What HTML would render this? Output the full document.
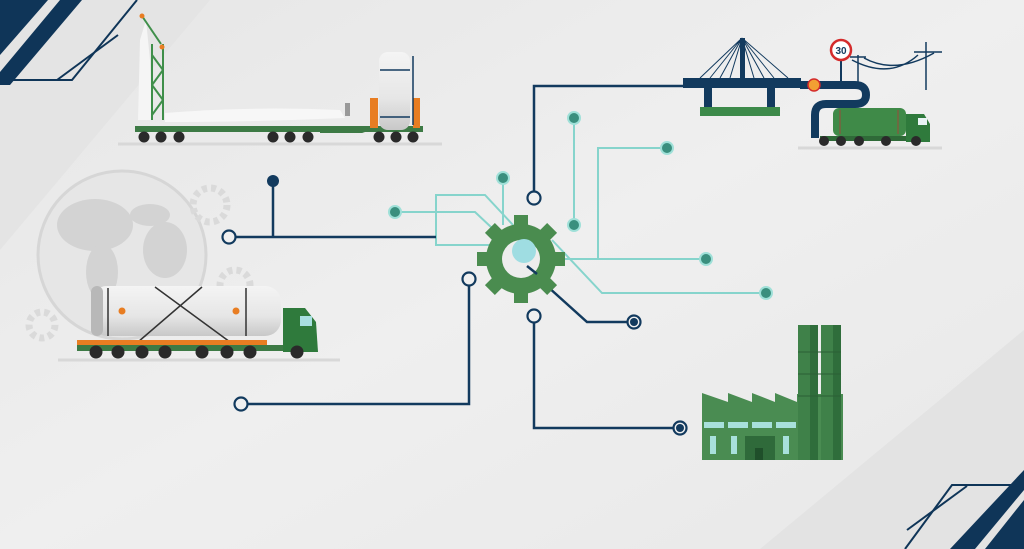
<!DOCTYPE html>
<html><head><meta charset="utf-8"><style>
html,body{margin:0;padding:0;background:#ececec;width:1024px;height:549px;overflow:hidden}
svg{display:block}
</style></head><body>
<svg width="1024" height="549" viewBox="0 0 1024 549" xmlns="http://www.w3.org/2000/svg">
<defs>
<linearGradient id="bg" x1="0" y1="0" x2="1" y2="1"><stop offset="0" stop-color="#e6e6e6"/><stop offset="0.5" stop-color="#efefef"/><stop offset="1" stop-color="#e8e8e8"/></linearGradient>
<linearGradient id="tank" x1="0" y1="0" x2="0" y2="1"><stop offset="0" stop-color="#f4f4f4"/><stop offset="0.6" stop-color="#e6e6e6"/><stop offset="1" stop-color="#c8c8c8"/></linearGradient>
</defs>
<rect width="1024" height="549" fill="url(#bg)"/>
<polygon points="0,0 210,0 0,250" fill="#e4e4e4"/>
<polygon points="1024,330 1024,549 760,549" fill="#e3e3e3"/>
<!-- top-left stripes -->
<polygon points="0,0 48,0 0,55" fill="#0f3558"/>
<polygon points="60,0 82,0 10,85 0,85 0,72" fill="#0f3558"/>
<polyline points="137,0 72,80 7,80" fill="none" stroke="#0f3558" stroke-width="2"/>
<line x1="118" y1="35" x2="57" y2="80" stroke="#0f3558" stroke-width="2"/>
<!-- bottom-right stripes -->
<polygon points="1024,500 1024,549 985,549" fill="#0f3558"/>
<polygon points="1024,470 1024,490 975,549 950,549" fill="#0f3558"/>
<polyline points="1020,485 952,485 905,549" fill="none" stroke="#0f3558" stroke-width="2"/>
<line x1="967" y1="486" x2="907" y2="530" stroke="#0f3558" stroke-width="2"/>

<!-- globe & bg gears -->
<circle cx="122" cy="255" r="84" fill="#e6e6e6" stroke="#d6d6d6" stroke-width="3"/>
<g fill="#d3d3d3">
<ellipse cx="95" cy="225" rx="38" ry="26"/><ellipse cx="102" cy="272" rx="16" ry="28"/>
<ellipse cx="165" cy="250" rx="22" ry="28"/><ellipse cx="150" cy="215" rx="20" ry="11"/>
</g>
<g fill="none" stroke="#dadada" stroke-width="7" stroke-dasharray="5 4">
<circle cx="210" cy="205" r="17"/><circle cx="235" cy="285" r="15"/><circle cx="42" cy="325" r="13"/>
</g>

<!-- circuit: teal -->
<g fill="none" stroke="#86d4cc" stroke-width="2">
<polyline points="401,212 475,212 492,228"/>
<polyline points="490,245 436,245 436,195 485,195 513,225"/>
<line x1="503" y1="184" x2="503" y2="225"/>
<line x1="574" y1="124" x2="574" y2="219"/>
<polyline points="556,259 700,259"/>
<polyline points="598,259 598,148 661,148"/>
<polyline points="552,240 602,293 760,293"/>
</g>
<g fill="#3a8f7e" stroke="#9fe0d8" stroke-width="2">
<circle cx="395" cy="212" r="6"/><circle cx="503" cy="178" r="6"/><circle cx="574" cy="118" r="6"/>
<circle cx="574" cy="225" r="6"/><circle cx="667" cy="148" r="6"/><circle cx="706" cy="259" r="6"/><circle cx="766" cy="293" r="6"/>
</g>
<!-- circuit: navy -->
<g fill="none" stroke="#123a5e" stroke-width="2.5">
<line x1="273" y1="181" x2="273" y2="237"/>
<line x1="236" y1="237" x2="436" y2="237"/>
<polyline points="469,286 469,404 248,404"/>
<polyline points="534,191 534,86 690,86"/>
<polyline points="527,268 587,322 628,322"/>
<polyline points="534,323 534,428 674,428"/>
</g>
<circle cx="273" cy="181" r="6" fill="#123a5e"/>
<g fill="#f0f0f0" stroke="#123a5e" stroke-width="2.2">
<circle cx="229" cy="237" r="6.5"/><circle cx="469" cy="279" r="6.5"/><circle cx="241" cy="404" r="6.5"/>
<circle cx="534" cy="198" r="6.5"/><circle cx="534" cy="316" r="6.5"/>
<circle cx="634" cy="322" r="6.5"/><circle cx="680" cy="428" r="6.5"/>
</g>
<circle cx="634" cy="322" r="4" fill="#123a5e"/><circle cx="680" cy="428" r="4" fill="#123a5e"/>

<!-- gear -->
<g transform="translate(521,259)" fill="#4a8c4f">
<circle r="35"/>
<g id="t"><rect x="-7" y="-44" width="14" height="14"/></g>
<use href="#t" transform="rotate(45)"/><use href="#t" transform="rotate(90)"/><use href="#t" transform="rotate(135)"/>
<use href="#t" transform="rotate(180)"/><use href="#t" transform="rotate(225)"/><use href="#t" transform="rotate(270)"/><use href="#t" transform="rotate(315)"/>
<circle r="19" fill="#ededed"/>
<circle cx="3" cy="-8" r="12" fill="#9fdde2"/>
</g>
<line x1="527" y1="266" x2="537" y2="274" stroke="#123a5e" stroke-width="2.5"/>

<!-- top-left truck with blade -->
<line x1="118" y1="144" x2="442" y2="144" stroke="#d8d8d8" stroke-width="3"/>
<polygon points="138,120 140,40 146,20 150,60 152,120" fill="#f5f5f5"/>
<path d="M165,113 Q250,106 340,110 L345,118 Q250,122 165,122 Z" fill="#f7f7f7"/>
<rect x="345" y="103" width="5" height="13" fill="#999"/>
<g stroke="#3f8f4a" stroke-width="2" fill="none">
<line x1="142" y1="16" x2="161" y2="44"/><line x1="152" y1="44" x2="152" y2="120"/><line x1="163" y1="44" x2="163" y2="120"/>
<line x1="152" y1="55" x2="163" y2="70"/><line x1="163" y1="70" x2="152" y2="85"/><line x1="152" y1="85" x2="163" y2="100"/><line x1="163" y1="100" x2="152" y2="115"/>
</g>
<circle cx="142" cy="16" r="2.5" fill="#e87d22"/><circle cx="162" cy="47" r="2.5" fill="#e87d22"/>
<rect x="135" y="126" width="288" height="6" fill="#3d7a45"/>
<polygon points="320,126 345,126 365,133 320,133" fill="#3d7a45"/>
<rect x="370" y="98" width="8" height="30" fill="#e87d22"/><rect x="413" y="98" width="7" height="30" fill="#e87d22"/>
<rect x="379" y="52" width="31" height="78" rx="9" fill="url(#tank)"/>
<line x1="380" y1="70" x2="410" y2="70" stroke="#123a5e" stroke-width="1.5"/>
<line x1="380" y1="117" x2="410" y2="117" stroke="#123a5e" stroke-width="1.5"/>
<line x1="413" y1="56" x2="413" y2="125" stroke="#123a5e" stroke-width="1.5"/>
<g fill="#2a2a2a">
<circle cx="144" cy="137" r="5.5"/><circle cx="161" cy="137" r="5.5"/><circle cx="179" cy="137" r="5.5"/>
<circle cx="273" cy="137" r="5.5"/><circle cx="290" cy="137" r="5.5"/><circle cx="308" cy="137" r="5.5"/>
<circle cx="379" cy="137" r="5.5"/><circle cx="396" cy="137" r="5.5"/><circle cx="413" cy="137" r="5.5"/>
</g>

<!-- lower truck -->
<line x1="58" y1="360" x2="340" y2="360" stroke="#d8d8d8" stroke-width="3"/>
<rect x="91" y="286" width="190" height="50" rx="16" fill="url(#tank)"/>
<rect x="91" y="286" width="12" height="50" rx="6" fill="#b8b8b8"/>
<line x1="108" y1="288" x2="108" y2="336" stroke="#333" stroke-width="1.5"/>
<line x1="246" y1="288" x2="246" y2="336" stroke="#333" stroke-width="1.5"/>
<line x1="155" y1="287" x2="230" y2="342" stroke="#333" stroke-width="1.5"/>
<line x1="202" y1="287" x2="138" y2="342" stroke="#333" stroke-width="1.5"/>
<circle cx="122" cy="311" r="3.5" fill="#e87d22"/><circle cx="236" cy="311" r="3.5" fill="#e87d22"/>
<rect x="77" y="340" width="190" height="5" fill="#e87d22"/>
<rect x="77" y="345" width="240" height="6" fill="#3d7a45"/>
<path d="M283,308 L305,308 L316,322 L318,352 L283,352 Z" fill="#2f7a3c"/>
<rect x="300" y="316" width="12" height="10" fill="#a8dfe0"/>
<g fill="#2a2a2a">
<circle cx="96" cy="352" r="6.5"/><circle cx="118" cy="352" r="6.5"/><circle cx="142" cy="352" r="6.5"/><circle cx="165" cy="352" r="6.5"/>
<circle cx="202" cy="352" r="6.5"/><circle cx="227" cy="352" r="6.5"/><circle cx="250" cy="352" r="6.5"/><circle cx="297" cy="352" r="6.5"/>
</g>

<!-- bridge -->
<g stroke="#123a5e" stroke-width="1" fill="none">
<path d="M742,38 L700,78 M742,38 L710,78 M742,38 L720,78 M742,38 L730,78 M742,38 L754,78 M742,38 L764,78 M742,38 L774,78 M742,38 L788,78"/>
</g>
<rect x="740" y="38" width="5" height="44" fill="#123a5e"/>
<rect x="683" y="78" width="118" height="10" fill="#123a5e"/>
<rect x="704" y="88" width="8" height="20" fill="#123a5e"/><rect x="767" y="88" width="8" height="20" fill="#123a5e"/>
<rect x="700" y="107" width="80" height="9" fill="#3d8a4a"/>
<path d="M800,85 L855,85 Q866,85 866,95 Q866,104 855,104 L826,104 Q815,104 815,115 L815,138" fill="none" stroke="#123a5e" stroke-width="8"/>
<circle cx="814" cy="85" r="6" fill="#f2a033" stroke="#d42b2b" stroke-width="1.5"/>
<line x1="841" y1="58" x2="841" y2="82" stroke="#123a5e" stroke-width="2"/>
<circle cx="841" cy="50" r="10" fill="#fff" stroke="#d42b2b" stroke-width="2.5"/>
<text x="841" y="54" font-family="Liberation Sans, sans-serif" font-size="10" font-weight="bold" text-anchor="middle" fill="#123a5e">30</text>
<g stroke="#123a5e" stroke-width="1.5" fill="none">
<line x1="858" y1="55" x2="858" y2="85"/><line x1="926" y1="42" x2="926" y2="90"/>
<line x1="850" y1="57" x2="866" y2="57"/><line x1="914" y1="52" x2="942" y2="52"/>
<path d="M852,60 Q890,80 918,55 M864,58 Q895,75 934,53"/>
</g>
<line x1="798" y1="148" x2="942" y2="148" stroke="#d8d8d8" stroke-width="3"/>
<rect x="833" y="108" width="73" height="28" rx="6" fill="#3f8a48"/>
<line x1="840" y1="110" x2="840" y2="134" stroke="#9b4a3a" stroke-width="1"/>
<line x1="898" y1="110" x2="898" y2="134" stroke="#9b4a3a" stroke-width="1"/>
<path d="M906,114 L924,114 L930,124 L930,142 L906,142 Z" fill="#2f7a3c"/>
<rect x="918" y="118" width="9" height="7" fill="#e8f4f4"/>
<rect x="820" y="136" width="86" height="5" fill="#2f6a38"/>
<g fill="#2a2a2a"><circle cx="824" cy="141" r="5"/><circle cx="841" cy="141" r="5"/><circle cx="859" cy="141" r="5"/><circle cx="886" cy="141" r="5"/><circle cx="916" cy="141" r="5"/></g>

<!-- factory -->
<polygon points="702,393 702,460 843,460 843,394 797,394 797,402 775,393 775,402 752,393 752,402 728,393 728,402" fill="#4a8c52"/>
<rect x="798" y="325" width="20" height="135" fill="#3f8149"/>
<rect x="821" y="325" width="20" height="135" fill="#3f8149"/>
<rect x="810" y="325" width="8" height="135" fill="#2f6d3b"/><rect x="833" y="325" width="8" height="135" fill="#2f6d3b"/>
<g stroke="#2b5e35" stroke-width="1"><line x1="798" y1="352" x2="841" y2="352"/><line x1="798" y1="374" x2="841" y2="374"/><line x1="798" y1="396" x2="841" y2="396"/></g>
<g fill="#a8e0dc">
<rect x="704" y="422" width="20" height="6"/><rect x="728" y="422" width="20" height="6"/><rect x="752" y="422" width="20" height="6"/><rect x="776" y="422" width="20" height="6"/>
<rect x="710" y="436" width="6" height="18"/><rect x="731" y="436" width="6" height="18"/><rect x="783" y="436" width="6" height="18"/>
</g>
<rect x="745" y="436" width="30" height="24" fill="#2f6a3a"/><rect x="755" y="448" width="8" height="12" fill="#1f4f2a"/>
</svg>
</body></html>
